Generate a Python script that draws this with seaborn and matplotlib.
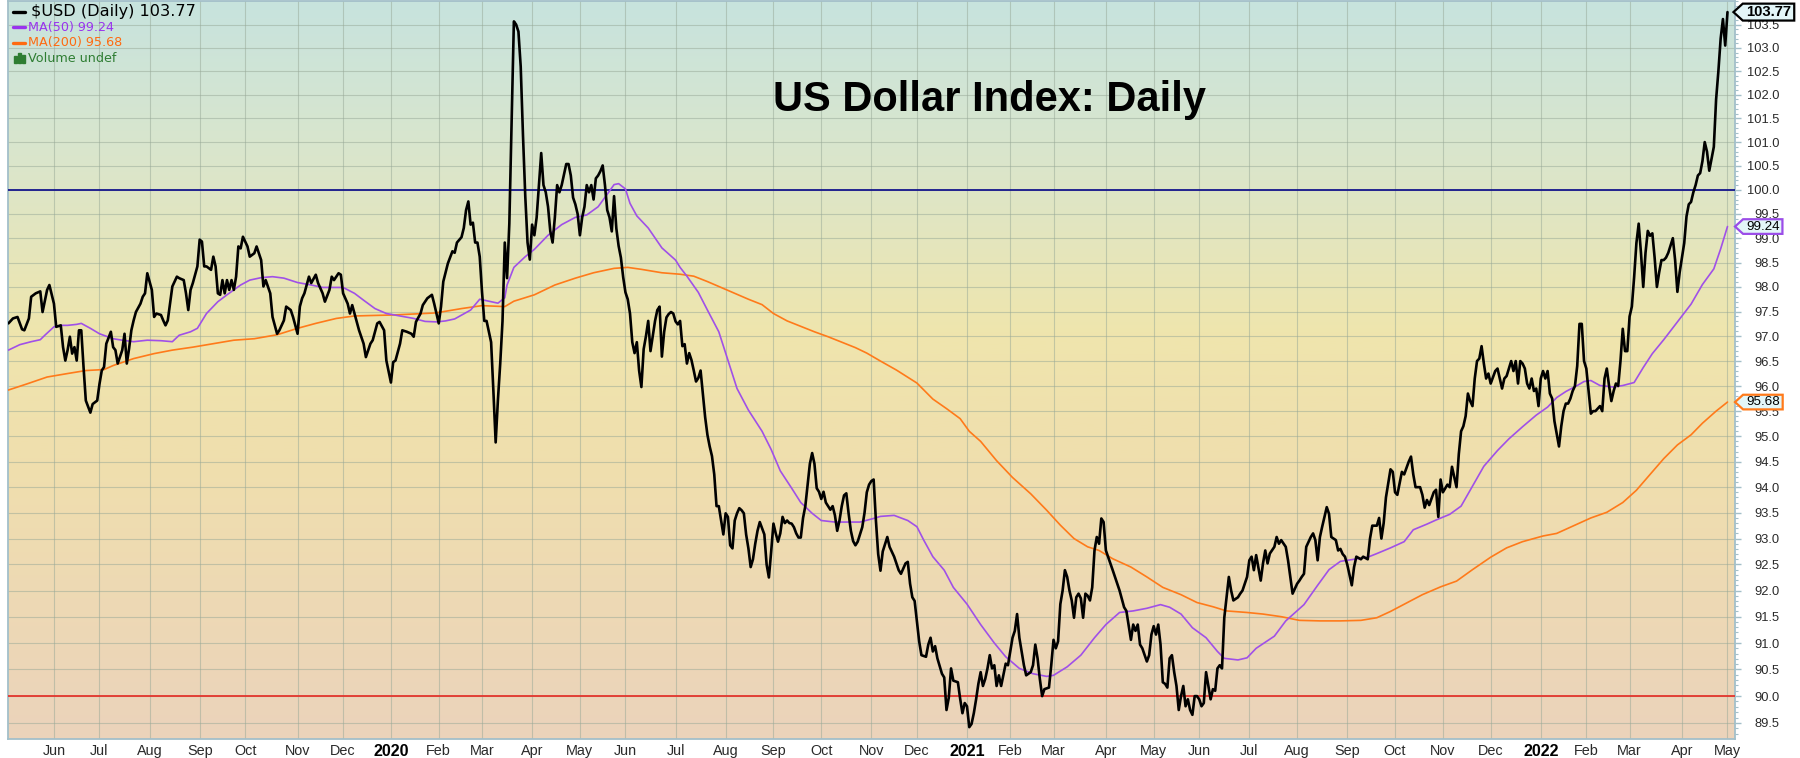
import numpy as np
import pandas as pd
import matplotlib
matplotlib.use("Agg")
import matplotlib.pyplot as plt
import seaborn as sns
from matplotlib.path import Path
from matplotlib.lines import Line2D
from matplotlib.patches import Rectangle
from matplotlib.ticker import FixedLocator, FixedFormatter, NullFormatter
from matplotlib.colors import to_rgb
from pandas.tseries.holiday import (AbstractHolidayCalendar, Holiday, sunday_to_monday,
                                    nearest_workday, USMartinLutherKingJr, USPresidentsDay,
                                    GoodFriday, USMemorialDay, USLaborDay, USThanksgivingDay)
from pandas.tseries.offsets import CustomBusinessDay

# ---------------------------------------------------------------- data
first_session_date = "2019-05-03"

# $USD daily close, keyed by trading-session number from the first session
usd_session = [
    0, 2, 4, 6, 7, 9, 10, 12, 14, 15, 17, 18, 20, 21, 23, 24, 25, 26, 27, 28, 29, 30, 31, 32, 33, 34, 36, 37, 39,
    40, 41, 42, 43, 45, 46, 47, 48, 50, 51, 52, 53, 54, 55, 56, 58, 59, 60, 61, 63, 64, 65, 67, 68, 69, 70, 71,
    72, 74, 75, 77, 78, 79, 80, 81, 83, 84, 85, 86, 87, 89, 90, 91, 92, 93, 94, 95, 96, 97, 98, 99, 100, 101,
    102, 103, 105, 106, 108, 109, 111, 112, 113, 115, 116, 118, 119, 121, 122, 124, 125, 127, 128, 129, 130,
    132, 133, 135, 136, 138, 139, 141, 142, 143, 145, 146, 147, 149, 150, 151, 152, 154, 156, 157, 159, 160,
    162, 163, 165, 166, 168, 169, 170, 172, 173, 175, 177, 178, 179, 181, 182, 184, 186, 187, 189,
    190, 191, 193, 195, 196, 197, 199, 200, 201, 202, 203, 204, 205, 206, 207, 208, 209, 210, 211, 212, 213,
    214, 215, 216, 217, 218, 219, 220, 221, 222, 223, 224, 225, 226, 227, 228, 229, 230, 231, 232, 233, 234,
    235, 236, 237, 238, 239, 240, 241, 242, 243, 244, 245, 246, 247, 248, 249, 250, 251, 252, 253, 254, 255,
    256, 257, 258, 259, 260, 261, 262, 263, 264, 265, 266, 267, 268, 269, 270, 271, 272, 273, 274, 275, 276,
    277, 278, 279, 280, 281, 282, 283, 284, 285, 286, 287, 288, 289, 290, 291, 292, 293, 294, 295, 296, 297,
    298, 299, 300, 301, 302, 303, 304, 305, 306, 307, 308, 309, 310, 311, 312, 313, 314, 315, 316, 317, 318,
    319, 320, 321, 322, 323, 324, 325, 326, 327, 328, 329, 330, 331, 332, 333, 334, 335, 336, 337, 338, 339,
    340, 341, 342, 343, 344, 345, 346, 347, 348, 349, 350, 351, 352, 353, 354, 355, 356, 357, 358, 359, 360,
    361, 362, 363, 364, 365, 366, 367, 368, 369, 370, 371, 372, 373, 374, 375, 376, 377, 378, 379, 380, 381,
    382, 383, 384, 386, 387, 389, 391, 392, 394, 395, 396, 397, 398, 400, 401, 403, 404, 405, 406, 407, 408,
    410, 411, 412, 413, 414, 415, 417, 418, 419, 420, 421, 422, 423, 424, 425, 426, 427, 428, 429, 430, 431,
    432, 433, 434, 435, 436, 437, 438, 439, 440, 441, 442, 443, 444, 445, 446, 447, 449, 450, 451, 452, 453,
    454, 455, 457, 458, 459, 460, 461, 462, 463, 464, 465, 466, 467, 468, 469, 470, 471, 472, 473, 474, 475,
    476, 477, 478, 479, 480, 481, 482, 484, 485, 486, 487, 488, 490, 491, 493, 494, 495, 496, 497, 498, 500,
    501, 502, 503, 504, 505, 506, 507, 508, 509, 510, 511, 512, 513, 514, 515, 516, 517, 518, 519, 520, 521,
    522, 523, 524, 525, 526, 527, 528, 529, 530, 531, 532, 533, 534, 536, 537, 538, 540, 541, 542, 544, 545,
    546, 547, 548, 550, 551, 552, 553, 554, 556, 557, 558, 559, 561, 562, 563, 564, 566, 567, 568, 569, 570,
    572, 573, 574, 575, 576, 577, 579, 580, 581, 583, 584,
    585, 586, 587, 588, 590, 591, 592, 594, 595, 597, 598, 599, 601, 602, 603, 604, 605, 607, 608, 609, 610,
    612, 613, 615, 616, 617, 618, 620, 621, 622, 623, 624, 626, 627, 628, 629, 630, 632, 633, 634, 635, 636,
    637, 638, 639, 640, 641, 642, 643, 644, 645, 646, 647, 648, 649, 650, 651, 653, 654, 655, 656, 657, 658,
    659, 660, 661, 662, 663, 664, 665, 666, 667, 668, 669, 670, 671, 672, 673, 674, 675, 676, 677, 678, 679,
    680, 681, 682, 683, 684, 685, 686, 687, 688, 689, 690, 691, 692, 693, 694, 695, 696, 697, 699, 700, 701,
    702, 703, 704, 705, 706, 707, 708, 709, 710, 711, 712, 713, 714, 715, 716, 717, 718, 719, 720, 721, 722,
    723, 724, 725, 726, 727, 728, 729, 730, 731, 732, 733, 734, 735, 736, 737, 738, 739, 740, 741, 742, 743,
    744, 745, 746, 747, 748, 749, 750, 751, 752, 753, 754, 755,
]
usd_close = [
    97.26, 97.36, 97.39, 97.14, 97.12, 97.36, 97.80, 97.87, 97.91, 97.49, 97.94, 98.04, 97.66, 97.19, 97.22,
    96.78, 96.51, 96.72, 96.99, 96.65, 96.78, 96.51, 97.12, 97.12, 96.38, 95.71, 95.47, 95.64, 95.71,
    96.04, 96.31, 96.38, 96.85, 97.09, 96.78, 96.72, 96.45, 96.72, 97.05, 96.45, 96.75, 97.12, 97.32, 97.49,
    97.66, 97.80, 97.87, 98.28, 97.94, 97.39, 97.46, 97.43, 97.32, 97.22, 97.32, 97.66,
    98.01, 98.21, 98.18, 98.14, 97.87, 97.53, 97.94, 98.08, 98.42, 98.97, 98.93, 98.42, 98.42, 98.35, 98.62,
    98.42, 97.87, 97.84, 98.14, 97.87, 98.14, 97.94, 98.14, 97.94, 98.21, 98.83,
    98.79, 99.03, 98.83, 98.62, 98.69, 98.83, 98.55, 98.01, 98.14, 97.87, 97.39, 97.05, 97.12, 97.32, 97.60,
    97.53, 97.39, 97.05, 97.60, 97.77, 97.87,
    98.21, 98.08, 98.25, 98.08, 97.87, 97.70, 97.94, 98.21, 98.14, 98.28, 98.25, 97.87, 97.66, 97.46, 97.63,
    97.46, 97.12, 96.85, 96.58, 96.85, 96.92,
    97.26, 97.29, 97.12, 96.51, 96.07, 96.48, 96.51, 96.85, 97.12, 97.09, 97.05, 96.99, 97.29, 97.46, 97.63,
    97.77, 97.84, 97.66, 97.26,
    97.60, 98.11, 98.48, 98.73, 98.70, 98.91, 99.02, 99.21, 99.58, 99.76, 99.28, 99.32, 98.91, 98.91, 98.62,
    97.90, 97.31, 97.31, 97.09, 96.88, 95.90,
    94.88, 95.73, 96.45, 97.30, 98.91, 98.18, 99.30, 101.37, 103.57, 103.50, 103.35, 102.60, 101.14, 99.87,
    98.91, 98.56, 99.28, 99.06, 99.43, 100.10, 100.77,
    100.10, 99.95, 99.65, 99.14, 98.91, 99.43, 100.10, 99.95, 100.10, 100.32, 100.54, 100.54, 100.30, 99.84,
    99.70, 99.50, 99.06, 99.43, 99.65, 100.10, 99.95,
    100.10, 99.80, 100.24, 100.30, 100.39, 100.51, 100.10, 99.58, 99.43, 99.14, 99.87, 99.20, 98.84, 98.60,
    98.20, 97.89, 97.75, 97.46, 96.88, 96.66, 96.88,
    96.31, 95.98, 96.74, 97.00, 97.31, 96.70, 97.00, 97.31, 97.53, 97.60, 96.59, 97.09, 97.38, 97.45, 97.49,
    97.46, 97.30, 97.24, 97.31, 96.80, 96.84,
    96.45, 96.66, 96.52, 96.31, 96.09, 96.16, 96.31, 95.85, 95.38, 95.03, 94.80, 94.61, 94.25, 93.63, 93.63,
    93.35, 93.08, 93.49, 93.42, 92.87, 92.81,
    93.35, 93.49, 93.59, 93.55, 93.49, 93.08, 92.81, 92.45, 92.60, 92.90, 93.15, 93.32, 93.20, 93.08, 92.50,
    92.25, 92.75, 93.29, 93.10, 92.94, 93.10,
    93.42, 93.30, 93.35, 93.30, 93.29, 93.22, 93.10, 93.02, 93.02, 93.40, 93.63, 94.05, 94.46, 94.67, 94.46,
    93.98, 93.91, 93.77, 93.91, 93.70, 93.63,
    93.56, 93.63, 93.45, 93.15, 93.35, 93.63, 93.84, 93.88, 93.49, 93.15, 92.95, 92.87, 92.94, 93.08, 93.22,
    93.50, 93.90, 94.05, 94.12, 94.15, 93.35,
    92.70, 92.38, 92.75, 93.03, 92.84, 92.65, 92.39, 92.32, 92.52, 92.55, 92.13, 91.87, 91.80, 91.03, 90.77,
    90.74, 90.97, 91.10, 90.84, 90.94, 90.71,
    90.42, 90.35, 89.74, 89.97, 90.52, 90.29, 90.26, 89.95, 89.68, 89.87, 89.81, 89.42, 89.48, 89.68, 89.94,
    90.23, 90.45, 90.19, 90.32, 90.52, 90.77,
    90.52, 90.58, 90.19, 90.39, 90.19, 90.40, 90.61, 90.58, 90.84, 91.10, 91.23, 91.55, 91.10, 90.84, 90.58,
    90.39, 90.45, 90.58, 90.97, 90.71, 90.32,
    90.00, 90.13, 90.16, 90.58, 91.06, 90.90, 91.03, 91.74, 92.00, 92.39, 92.26, 92.00, 91.81, 91.48, 91.87,
    91.94, 91.85, 91.48, 91.94, 91.90, 91.81,
    92.06, 92.77, 93.03, 92.90, 93.39, 93.32, 92.77, 92.52, 92.39, 92.26, 92.13, 92.00, 91.68, 91.61, 91.06,
    91.35, 91.23, 91.35, 90.97, 90.90, 90.65,
    90.77, 91.16, 91.32, 91.16, 91.35, 90.97, 90.26, 90.23, 90.16, 90.71, 90.77, 90.45, 90.19, 89.74, 90.00,
    90.19, 89.81, 89.94, 89.74, 89.65, 90.00,
    90.00, 89.94, 89.81, 89.87, 90.45, 90.19, 89.94, 90.13, 90.10, 90.52, 90.58, 90.52, 91.48, 92.26, 92.00,
    91.81, 91.87, 91.94, 92.00, 92.26, 92.58,
    92.65, 92.39, 92.68, 92.19, 92.52, 92.77, 92.52, 92.71, 92.84, 93.03, 92.90, 92.97, 92.84, 92.58, 92.26,
    91.94, 92.13, 92.19, 92.26, 92.32, 92.84,
    93.03, 93.10, 92.97, 92.58, 93.03, 93.23, 93.61, 93.48, 93.03, 92.97, 92.77,
    92.80, 92.70, 92.65, 92.50, 92.10, 92.45, 92.65, 92.60, 92.65, 92.60, 93.00, 93.25, 93.25, 93.40, 93.00,
    93.30, 93.80, 94.35, 94.30, 93.90, 93.85,
    94.30, 94.25, 94.50, 94.60, 94.25, 94.00, 94.00, 93.85, 93.60, 93.75, 93.65, 93.90, 93.95, 93.42, 94.15,
    93.90, 94.05, 94.00, 94.40, 94.20, 94.00,
    94.65, 95.10, 95.20, 95.40, 95.85, 95.70, 95.60, 96.15, 96.50, 96.55, 96.80, 96.45, 96.15, 96.25, 96.05,
    96.30, 96.35, 96.15, 95.95, 96.15, 96.20,
    96.35, 96.50, 96.30, 96.50, 96.05, 96.50, 96.45, 96.35, 96.05, 95.95, 96.15, 95.90, 95.95, 95.60, 96.15,
    96.30, 96.15, 96.30, 95.85, 95.75, 95.30,
    95.05, 94.80, 95.20, 95.50, 95.65, 95.65, 95.75, 95.90, 96.00, 96.40, 97.25, 97.25, 96.50, 96.35, 95.90,
    95.45, 95.50, 95.50, 95.60, 95.50, 96.15,
    96.35, 96.00, 95.70, 95.90, 96.05, 96.00, 96.50, 97.15, 96.70, 96.70, 97.40, 97.60, 98.20, 98.90, 99.30,
    98.70, 98.00, 98.70, 99.15, 99.05, 99.10,
    98.60, 98.00, 98.30, 98.55, 98.55, 98.60, 98.70, 98.85, 99.00, 98.55, 97.90, 98.30, 98.60, 98.90, 99.45,
    99.70, 99.75, 99.95, 100.10, 100.30, 100.35,
    100.60, 101.00, 100.80, 100.40, 100.65, 100.90, 101.90, 102.50, 103.20, 103.62, 103.05, 103.77,
]

# 50-day moving average
ma50_session = [
    0, 5, 10, 14, 16, 20, 23, 26, 30, 32, 36, 40, 46, 50, 55, 61, 67, 72, 75, 80, 83, 87, 92, 96, 102, 106,
    111, 116, 121, 127, 133, 138, 144, 147, 152, 156, 161, 166, 172, 178, 183, 188, 192, 196, 203, 207, 211,
    215, 218, 219, 222, 227, 231, 237, 243, 249, 254, 259, 263, 266, 268, 271, 273, 276, 281, 287, 293, 295,
    298, 303, 307, 312, 316, 320, 325, 331, 335, 339, 344, 348, 353, 357, 363, 369, 374, 380, 383, 389, 395,
    399, 402, 406, 411, 415, 421, 427, 433, 438, 444, 450, 456, 459, 465, 471, 477, 482, 488, 494, 500, 506,
    510, 515, 520, 526, 531, 534, 540, 544, 548, 556, 561, 569, 575, 580, 585, 591, 597, 601, 607, 613, 617,
    623, 627, 633, 638, 642, 648, 654, 659, 665, 671, 676, 680, 684, 689, 692, 695, 699, 705, 709, 714, 718,
    722, 727, 733, 739, 744, 749, 752, 755,
]
ma50_value = [
    96.72, 96.83, 96.89, 96.93, 97.02, 97.19, 97.22, 97.22, 97.24, 97.26, 97.16, 97.05, 96.95, 96.92, 96.89,
    96.92, 96.91, 96.89, 97.02, 97.09, 97.16, 97.46, 97.70, 97.84, 98.04, 98.14, 98.19, 98.21, 98.18, 98.09,
    98.04, 97.99, 97.99, 97.99, 97.87, 97.73, 97.56, 97.46, 97.41, 97.36, 97.30, 97.29, 97.31, 97.35, 97.53,
    97.75, 97.71, 97.67, 97.78, 98.04, 98.40, 98.62, 98.77, 99.06, 99.28, 99.43, 99.48, 99.65, 99.91, 100.11,
    100.13, 100.02, 99.72, 99.46, 99.21, 98.80, 98.55, 98.40, 98.22, 97.89, 97.53, 97.09, 96.52, 95.95, 95.52,
    95.10, 94.74, 94.32, 93.98, 93.70, 93.49, 93.35, 93.32, 93.32, 93.32, 93.39, 93.43, 93.45, 93.35, 93.23,
    92.97, 92.65, 92.39, 92.06, 91.74, 91.35, 91.00, 90.74, 90.52, 90.42, 90.37, 90.39, 90.55, 90.77, 91.10,
    91.35, 91.58, 91.61, 91.66, 91.73, 91.68, 91.55, 91.29, 91.10, 90.84, 90.71, 90.68, 90.72, 90.90, 91.13,
    91.42, 91.73, 92.10, 92.40, 92.56, 92.60, 92.64, 92.71, 92.82, 92.94, 93.17, 93.28, 93.36, 93.47, 93.63,
    93.94, 94.41, 94.72, 94.95, 95.19, 95.42, 95.58, 95.77, 95.89, 96.01, 96.09, 96.11, 96.01, 95.98, 96.01,
    96.07, 96.37, 96.65, 96.93, 97.29, 97.65, 98.05, 98.37, 98.78, 99.24,
]

# 200-day moving average
ma200_session = [
    0, 8, 17, 26, 34, 42, 46, 55, 64, 72, 81, 90, 99, 108, 118, 127, 135, 144, 152, 160, 169, 178, 187, 190,
    199, 208, 218, 222, 231, 240, 249, 257, 266, 272, 278, 287, 295, 301, 307, 316, 325, 331, 336, 342, 348,
    354, 360, 366, 372, 377, 383, 390, 399, 406, 412, 418, 422, 427, 434, 441, 449, 456, 462, 468, 474, 479,
    485, 493, 500, 507, 515, 522, 529, 535, 544, 551, 559, 567, 576, 585, 594, 601, 607, 614, 621, 629, 636,
    643, 651, 658, 665, 674, 680, 687, 695, 702, 709, 715, 721, 727, 733, 739, 744, 750, 755,
]
ma200_value = [
    95.92, 96.04, 96.18, 96.25, 96.31, 96.33, 96.41, 96.55, 96.65, 96.72, 96.78, 96.85, 96.92, 96.95, 97.03,
    97.16, 97.26, 97.36, 97.41, 97.42, 97.43, 97.45, 97.47, 97.49, 97.56, 97.62, 97.60, 97.71, 97.84, 98.04,
    98.18, 98.29, 98.38, 98.40, 98.36, 98.29, 98.26, 98.22, 98.11, 97.93, 97.75, 97.64, 97.46, 97.31, 97.20,
    97.09, 96.99, 96.88, 96.77, 96.66, 96.50, 96.32, 96.06, 95.74, 95.55, 95.35, 95.10, 94.90, 94.52, 94.19,
    93.87, 93.55, 93.26, 93.00, 92.84, 92.77, 92.61, 92.45, 92.26, 92.06, 91.92, 91.77, 91.69, 91.61, 91.58,
    91.55, 91.50, 91.43, 91.42, 91.42, 91.43, 91.48, 91.60, 91.76, 91.92, 92.07, 92.18, 92.40, 92.64, 92.82,
    92.94, 93.05, 93.10, 93.24, 93.40, 93.51, 93.70, 93.94, 94.25, 94.56, 94.83, 95.03, 95.26, 95.50, 95.68,
]

price_ticks = [89.5, 90.0, 90.5, 91.0, 91.5, 92.0, 92.5, 93.0, 93.5, 94.0, 94.5, 95.0, 95.5, 96.0, 96.5,
               97.0, 97.5, 98.0, 98.5, 99.0, 99.5, 100.0, 100.5, 101.0, 101.5, 102.0, 102.5, 103.0, 103.5]
level_lines = {"upper": 100.0, "lower": 90.0}
chart_title = "US Dollar Index: Daily"

# ---------------------------------------------------------------- calendar
class TradingCalendar(AbstractHolidayCalendar):
    rules = [
        Holiday("New Year", month=1, day=1, observance=sunday_to_monday),
        USMartinLutherKingJr, USPresidentsDay, GoodFriday, USMemorialDay,
        Holiday("Independence Day", month=7, day=4, observance=nearest_workday),
        USLaborDay, USThanksgivingDay,
        Holiday("Christmas", month=12, day=25, observance=nearest_workday),
    ]

sessions = pd.date_range(first_session_date, periods=770, freq=CustomBusinessDay(calendar=TradingCalendar()))
x_max = 758.3
month_pos, month_lab, month_is_year = [], [], []
for i in range(1, len(sessions)):
    if sessions[i].month != sessions[i - 1].month and i <= x_max:
        month_pos.append(i)
        if sessions[i].month == 1:
            month_lab.append(str(sessions[i].year))
            month_is_year.append(True)
        else:
            month_lab.append(sessions[i].strftime("%b"))
            month_is_year.append(False)

# ---------------------------------------------------------------- figure
sns.set_style("white")
plt.rcParams["font.family"] = ["Liberation Sans", "DejaVu Sans"]

W, H = 1800, 758
fig = plt.figure(figsize=(W / 100, H / 100), dpi=100)
fig.patch.set_facecolor("white")
left_px, right_px, top_px, bottom_px = 8.4, 1735.0, 1.0, 739.0
rect = [left_px / W, (H - bottom_px) / H, (right_px - left_px) / W, (bottom_px - top_px) / H]

# vertical colour wash behind the plot
bg = fig.add_axes(rect, zorder=0)
stops = [(0.00, "#c7e3de"), (0.22, "#dbe6cb"), (0.45, "#efe5ad"), (0.62, "#f0dfad"), (1.00, "#ebd3bb")]
n = 400
tt = np.linspace(0, 1, n)
cols = np.zeros((n, 1, 3))
for c in range(3):
    cols[:, 0, c] = np.interp(tt, [s[0] for s in stops], [to_rgb(s[1])[c] for s in stops])
bg.imshow(cols, aspect="auto", extent=(0, 1, 0, 1), interpolation="bilinear")
bg.set_axis_off()

ax = fig.add_axes(rect, zorder=1)
ax.patch.set_alpha(0)

sns.lineplot(x=ma200_session, y=ma200_value, ax=ax, color="#ff7a1a", linewidth=1.2,
             estimator=None, sort=False, zorder=4)
sns.lineplot(x=ma50_session, y=ma50_value, ax=ax, color="#a050e8", linewidth=1.2,
             estimator=None, sort=False, zorder=4)
sns.lineplot(x=usd_session, y=usd_close, ax=ax, color="black", linewidth=1.9,
             estimator=None, sort=False, zorder=5)

ax.axhline(level_lines["upper"], color="#15158c", linewidth=1.3, zorder=3)
ax.axhline(level_lines["lower"], color="#e3342c", linewidth=1.3, zorder=3)

ax.set_yscale("log")
ax.set_ylim(89.20, 104.01)
ax.set_xlim(0, x_max)

# y axis on the right
ax.yaxis.tick_right()
ax.yaxis.set_major_locator(FixedLocator(price_ticks))
ax.yaxis.set_major_formatter(FixedFormatter([f"{v:.1f}" for v in price_ticks]))
ax.yaxis.set_minor_locator(FixedLocator(np.round(np.arange(89.3, 104.0, 0.1), 1)))
ax.yaxis.set_minor_formatter(NullFormatter())
spine_col = "#a3bfc9"
ax.tick_params(axis="y", which="major", length=4, width=1, color=spine_col, pad=28,
               labelsize=9.3, labelcolor="#2a2a2a")
ax.tick_params(axis="y", which="minor", length=2.5, width=0.8, color=spine_col)
for lab in ax.get_yticklabels():
    lab.set_horizontalalignment("right")

# month axis
ax.set_xticks(month_pos)
ax.set_xticklabels(month_lab)
ax.tick_params(axis="x", which="major", length=3, width=1, color=spine_col, pad=0.5,
               labelsize=10.4, labelcolor="#2a2a2a")
for lab, is_year in zip(ax.get_xticklabels(), month_is_year):
    if is_year:
        lab.set_fontweight("bold")
        lab.set_fontsize(11.6)
        lab.set_color("black")
ax.set_xlabel("")
ax.set_ylabel("")

ax.grid(True, which="major", color="#97a897", alpha=0.5, linewidth=0.8, zorder=1)
ax.set_axisbelow(True)
for sp in ax.spines.values():
    sp.set_color(spine_col)
    sp.set_linewidth(1.3)

# title
ax.text((990 - left_px) / (right_px - left_px), (bottom_px - 100) / (bottom_px - top_px), chart_title,
        transform=ax.transAxes, ha="center", va="center", fontsize=30, fontweight="bold",
        color="black", zorder=6)

# legend block in the upper-left corner
def fx(px):
    return px / W

def fy(py):
    return 1 - py / H

legend_rows = [
    (11.5, "black", r"\$USD (Daily) " + f"{usd_close[-1]:.2f}", 11.6, 31, "black"),
    (27.0, "#9933ee", f"MA(50) {ma50_value[-1]:.2f}", 9.2, 28, "#9933ee"),
    (42.5, "#ff6a10", f"MA(200) {ma200_value[-1]:.2f}", 9.2, 28, "#ff6a10"),
]
for yy, lc, txt, fs, tx, tc in legend_rows:
    fig.add_artist(Line2D([fx(13), fx(25)], [fy(yy), fy(yy)], color=lc, linewidth=2.4,
                          transform=fig.transFigure, zorder=10))
    fig.text(fx(tx), fy(yy), txt, color=tc, fontsize=fs, va="center", ha="left",
             family=["DejaVu Sans"], zorder=10)
for bx, bh in [(13.5, 7), (17.5, 10), (21.5, 8)]:
    fig.add_artist(Rectangle((fx(bx), fy(63)), 3 / W, bh / H, color="#2e7d32",
                             transform=fig.transFigure, zorder=10))
fig.text(fx(28), fy(58), "Volume undef", color="#2e7d32", fontsize=9.2, va="center", ha="left",
         family=["DejaVu Sans"], zorder=10)

# last-value tags on the price axis
def tag_box(x0, y0, width, height, mutation_size):
    pad = 0.22 * mutation_size
    x0 -= pad
    y0 -= pad * 0.45
    width += 2 * pad
    height += pad * 0.9
    tip = height * 0.55
    verts = [(x0 - tip, y0 + height / 2), (x0, y0 + height), (x0 + width, y0 + height),
             (x0 + width, y0), (x0, y0), (x0 - tip, y0 + height / 2)]
    return Path(verts, [Path.MOVETO, Path.LINETO, Path.LINETO, Path.LINETO, Path.LINETO, Path.CLOSEPOLY])

tags = [
    (usd_close[-1], "black", True, 10.6),
    (ma50_value[-1], "#9b4de8", False, 9.6),
    (ma200_value[-1], "#ff7a1a", False, 9.6),
]
for val, ec, bold, fs in tags:
    ax.annotate(f"{val:.2f}", xy=(1, val), xycoords=("axes fraction", "data"),
                xytext=(11, 0), textcoords="offset pixels", ha="left", va="center",
                fontsize=fs, fontweight="bold" if bold else "normal", color="black",
                annotation_clip=False, zorder=8,
                bbox=dict(boxstyle=tag_box, fc="#e3f6f8", ec=ec, lw=1.6))

fig.savefig("out.png", dpi=100, facecolor="white")
